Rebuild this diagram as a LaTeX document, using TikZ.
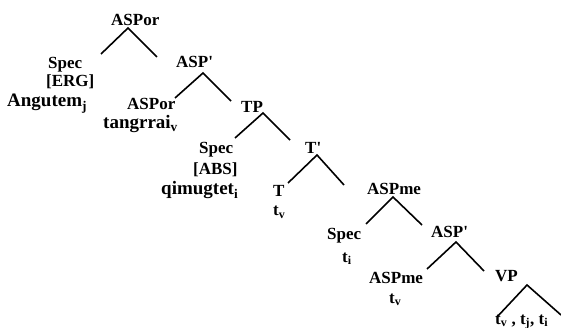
\documentclass[tikz,border=0pt]{standalone}
\usepackage{fontspec}
\setmainfont{Liberation Serif}
\begin{document}
\begin{tikzpicture}[x=1pt,y=-1pt,
  lab/.style={font=\fontsize{17}{18}\selectfont\bfseries, inner sep=0pt, anchor=base west},
  big/.style={lab, font=\fontsize{19}{20}\selectfont\bfseries},
  branch/.style={line width=1.6pt}]
\useasboundingbox (0,0) rectangle (561,328);
% labels
\node[lab] (aspor)   at (111,26)  {ASPor};
\node[lab] (spec1)   at (48,69)   {Spec};
\node[lab] (erg)     at (46,87)   {[ERG]};
\node[big] (angutem) at (7,107)   {Angutem\textsubscript{j}};
\node[lab] (asp1)    at (176,68)  {ASP\textquotesingle};
\node[lab] (aspor2)  at (127,110) {ASPor};
\node[big] (tangr)   at (103,129) {tangrrai\textsubscript{v}};
\node[lab] (tp)      at (241,113) {TP};
\node[lab] (spec2)   at (199,154) {Spec};
\node[lab] (abs)     at (193,175) {[ABS]};
\node[big] (qimu)    at (161,195) {qimugtet\textsubscript{i}};
\node[lab] (tbar)    at (305,154) {T\textquotesingle};
\node[lab] (t)       at (273,197) {T};
\node[lab] (tv1)     at (273,216) {t\textsubscript{v}};
\node[lab] (aspme)   at (367,195) {ASPme};
\node[lab] (spec3)   at (327,240) {Spec};
\node[lab] (ti)      at (342,262) {t\textsubscript{i}};
\node[lab] (asp2)    at (431,238) {ASP\textquotesingle};
\node[lab] (aspme2)  at (369,283) {ASPme};
\node[lab] (tv2)     at (389,303) {t\textsubscript{v}};
\node[lab] (vp)      at (495,281) {VP};
\node[lab] (traces)  at (495,324) {t\textsubscript{v} , t\textsubscript{j}, t\textsubscript{i}};
% branch points
\coordinate (b1A) at (128,28);  \coordinate (b1L) at (101,54);  \coordinate (b1R) at (157,57);
\coordinate (b2A) at (203,73);  \coordinate (b2L) at (175,98);  \coordinate (b2R) at (231,101);
\coordinate (b3A) at (263,113); \coordinate (b3L) at (235,138); \coordinate (b3R) at (290,140);
\coordinate (b4A) at (317,155); \coordinate (b4L) at (288,183); \coordinate (b4R) at (344,185);
\coordinate (b5A) at (393,197); \coordinate (b5L) at (366,224); \coordinate (b5R) at (422,225);
\coordinate (b6A) at (456,242); \coordinate (b6L) at (427,269); \coordinate (b6R) at (484,271);
\coordinate (b7A) at (527,285); \coordinate (b7L) at (497,317); \coordinate (b7R) at (561,315);
\foreach \b in {1,...,7}{\draw[branch] (b\b L) -- (b\b A) -- (b\b R);}
\end{tikzpicture}
\end{document}
